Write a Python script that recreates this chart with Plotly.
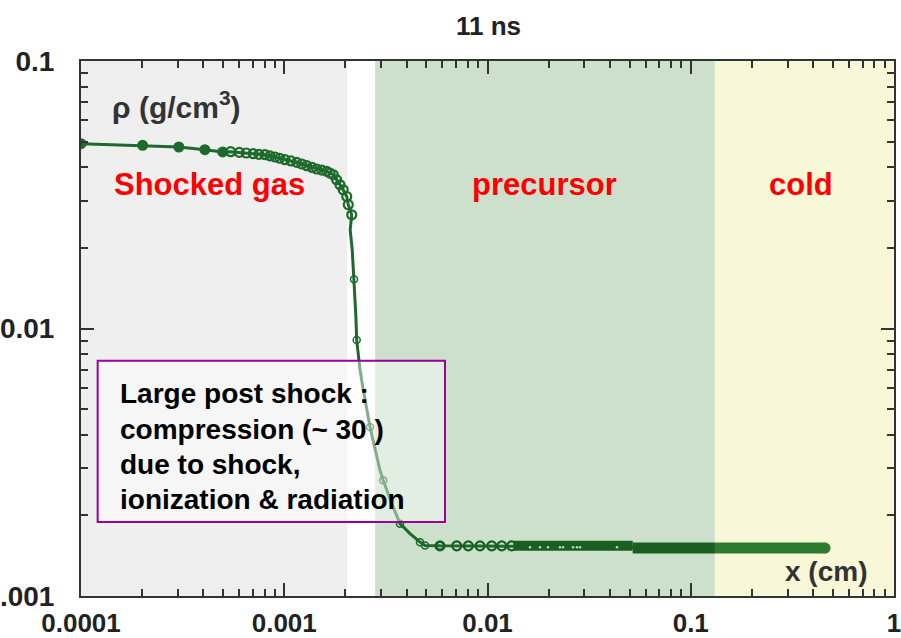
import plotly.graph_objects as go

FONT = "Liberation Sans, Arial, sans-serif"

# ---------------- data ----------------
shock_end_x = 0.00204
precursor_start_x = 0.0028
precursor_end_x = 0.1315
x_min, x_max = 0.0001, 1.0
y_min, y_max = 0.001, 0.1

filled_x = [0.0001, 0.000201, 0.000303, 0.000407, 0.000498]
filled_y = [0.0491, 0.0484, 0.0477, 0.0466, 0.0457]

shocked_x = [0.000545, 0.000601, 0.00065, 0.000704, 0.00075, 0.000804, 0.00085, 0.000901,
             0.00095, 0.001009, 0.00108, 0.001152, 0.00122, 0.00129, 0.00137, 0.001444,
             0.00153, 0.001618, 0.00168, 0.001743, 0.00181, 0.00188, 0.00195, 0.00203,
             0.002066, 0.002148]
shocked_y = [0.0458, 0.04554, 0.0453, 0.04503, 0.0448, 0.04464, 0.0442, 0.04376,
             0.0433, 0.04276, 0.0423, 0.04178, 0.0412, 0.04061, 0.0400, 0.03947,
             0.0391, 0.03866, 0.0381, 0.03757, 0.03598, 0.03447, 0.03302, 0.03115,
             0.02901, 0.02661]

front_x = [0.00211, 0.00216, 0.002204, 0.00225, 0.002272, 0.00236, 0.002449, 0.002642,
           0.002958, 0.00307, 0.003378, 0.003711, 0.004157, 0.004655, 0.004927, 0.005838]
front_y = [0.02338, 0.01968, 0.01529, 0.0112, 0.00906, 0.00699, 0.005885, 0.004286,
           0.002951, 0.002707, 0.002215, 0.001864, 0.00171, 0.00159, 0.001546, 0.00154]
front_open_idx = [2, 4, 7, 9, 11, 13, 14, 15]

plateau_open_x = [0.005838, 0.007056, 0.008043, 0.009187, 0.01049, 0.01175, 0.01315]
plateau_open_y = [0.00154, 0.00154, 0.00154, 0.00154, 0.00154, 0.00154, 0.00154]

band1_x = [0.0134, 0.0518]
band1_y = [0.00154, 0.00154]
gap_x = [0.01618, 0.01813, 0.01985, 0.02273, 0.02353, 0.02635, 0.02756, 0.02853, 0.04337]
gap_y = [0.00152] * 9

band2_x = [0.0518, precursor_end_x]
band2_y = [0.00151, 0.00151]
band3_x = [precursor_end_x, 0.458]
band3_y = [0.00151, 0.00151]

region_labels = ["Shocked gas", "precursor", "cold"]
box_lines = ["Large post shock :", "compression (~ 30 )", "due to shock,",
             "ionization & radiation"]

# ---------------- figure ----------------
LINE = "#1d6a2c"
DARK = "#1a5f22"

all_x = filled_x + shocked_x + front_x + band3_x[-1:]
all_y = filled_y + shocked_y + front_y + band3_y[-1:]

fig = go.Figure()
fig.add_trace(go.Scatter(x=all_x, y=all_y, mode="lines",
                         line=dict(color=LINE, width=3)))
fig.add_trace(go.Scatter(x=band1_x, y=band1_y, mode="lines",
                         line=dict(color=DARK, width=10)))
fig.add_trace(go.Scatter(x=band2_x, y=band2_y, mode="lines",
                         line=dict(color=DARK, width=11)))
fig.add_trace(go.Scatter(x=band3_x, y=band3_y, mode="lines",
                         line=dict(color="#2e7a2e", width=11)))
fig.add_trace(go.Scatter(x=band3_x[-1:], y=band3_y[-1:], mode="markers",
                         marker=dict(color="#2e7a2e", size=11)))
fig.add_trace(go.Scatter(x=gap_x, y=gap_y, mode="markers",
                         marker=dict(color="#bcd8bc", size=2.5)))
fig.add_trace(go.Scatter(x=filled_x, y=filled_y, mode="markers",
                         marker=dict(color=LINE, size=11)))
fig.add_trace(go.Scatter(x=shocked_x, y=shocked_y, mode="markers",
                         marker=dict(symbol="circle-open", color=LINE, size=9,
                                     line=dict(width=2.2))))
fig.add_trace(go.Scatter(x=[front_x[i] for i in front_open_idx],
                         y=[front_y[i] for i in front_open_idx], mode="markers",
                         marker=dict(symbol="circle-open", color=LINE, size=7,
                                     line=dict(width=1.5))))
fig.add_trace(go.Scatter(x=plateau_open_x, y=plateau_open_y, mode="markers",
                         marker=dict(symbol="circle-open", color=DARK, size=9,
                                     line=dict(width=2.2))))

shapes = [
    dict(type="rect", xref="x", yref="y", x0=x_min, x1=shock_end_x, y0=y_min, y1=y_max,
         fillcolor="#efefef", line=dict(width=0), layer="below"),
    dict(type="rect", xref="x", yref="y", x0=precursor_start_x, x1=precursor_end_x,
         y0=y_min, y1=y_max, fillcolor="#cce0cc", line=dict(width=0), layer="below"),
    dict(type="rect", xref="x", yref="y", x0=precursor_end_x, x1=x_max, y0=y_min, y1=y_max,
         fillcolor="#f8f8d8", line=dict(width=0), layer="below"),
    dict(type="rect", xref="paper", yref="paper", x0=0.0205, x1=0.4477, y0=0.1383, y1=0.4398,
         fillcolor="rgba(255,255,255,0.45)", line=dict(color="#990099", width=2), layer="above"),
]

annotations = [
    dict(text="<b>11 ns</b>", x=0.5012, y=1.0645, xref="paper", yref="paper",
         xanchor="center", yanchor="middle",
         showarrow=False, font=dict(family=FONT, size=26, color="#222")),
    dict(text="<b>ρ (g/cm<sup>3</sup>)</b>", x=0.0357, y=0.918, xref="paper", yref="paper",
         xanchor="left", yanchor="middle", showarrow=False,
         font=dict(family=FONT, size=30, color="#333")),
    dict(text="<b>x (cm)</b>", x=0.8635, y=0.045, xref="paper", yref="paper",
         xanchor="left", yanchor="middle", showarrow=False,
         font=dict(family=FONT, size=28, color="#333")),
]
for txt, xp in zip(region_labels, [0.158, 0.570, 0.8856]):
    annotations.append(dict(text=f"<b>{txt}</b>", x=xp, y=0.770, xref="paper", yref="paper",
                            xanchor="center", yanchor="middle", showarrow=False,
                            font=dict(family=FONT, size=31, color="#ff0000")))
for txt, yp in zip(box_lines, [0.3776, 0.3121, 0.2467, 0.1813]):
    annotations.append(dict(text=f"<b>{txt}</b>", x=0.0455, y=yp, xref="paper", yref="paper",
                            xanchor="left", yanchor="middle", showarrow=False,
                            font=dict(family=FONT, size=28, color="#000")))

minor_ticks = dict(ticks="inside", ticklen=7, tickwidth=2, tickcolor="#333", showgrid=False)

fig.update_layout(
    template="none",
    width=901, height=638,
    margin=dict(l=81, r=7, t=61, b=42),
    paper_bgcolor="white", plot_bgcolor="white",
    showlegend=False,
    shapes=shapes, annotations=annotations,
    xaxis=dict(
        type="log", range=[-4, 0], showline=True, linewidth=2, linecolor="#333",
        mirror="ticks", tickmode="linear", tick0=0, dtick=1, tickformat="~g",
        ticks="inside", ticklen=13, tickwidth=2, tickcolor="#333",
        showgrid=False, zeroline=False, automargin=False,
        ticklabeloverflow="allow", ticklabelstandoff=3,
        tickfont=dict(family=FONT, size=26, color="#222", weight="bold"),
        minor=minor_ticks,
    ),
    yaxis=dict(
        type="log", range=[-3, -1], showline=True, linewidth=2, linecolor="#333",
        mirror="ticks", tickmode="linear", tick0=0, dtick=1, tickformat="~g",
        ticks="inside", ticklen=13, tickwidth=2, tickcolor="#333",
        showgrid=False, zeroline=False, automargin=False,
        ticklabeloverflow="allow", ticklabelstandoff=19,
        tickfont=dict(family=FONT, size=28, color="#222", weight="bold"),
        minor=minor_ticks,
    ),
)

fig.write_html("out.html")
